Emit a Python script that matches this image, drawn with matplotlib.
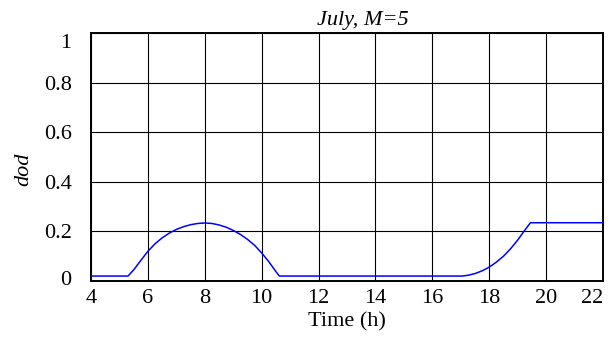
import numpy as np
import matplotlib
matplotlib.use("Agg")
from matplotlib import pyplot as plt
from matplotlib import transforms

# depth of discharge over the day
hours = [4, 5.3, 5.5, 5.75, 6, 6.25, 6.5, 6.75, 7, 7.25, 7.5, 7.75, 8, 8.25, 8.5, 8.75,
         9, 9.25, 9.5, 9.75, 10, 10.25, 10.5, 10.62,
         17.05, 17.25, 17.5, 17.75, 18, 18.25, 18.5, 18.75, 19, 19.25, 19.45, 22]
dod = [0.02, 0.02, 0.045, 0.083, 0.12, 0.15, 0.174, 0.193, 0.208, 0.219, 0.227, 0.232, 0.234, 0.232, 0.226, 0.217,
       0.204, 0.188, 0.168, 0.144, 0.113, 0.078, 0.038, 0.02,
       0.02, 0.023, 0.03, 0.041, 0.056, 0.076, 0.1, 0.13, 0.165, 0.205, 0.235, 0.235]

x_ticks = [4, 6, 8, 10, 12, 14, 16, 18, 20, 22]
y_ticks = [0, 0.2, 0.4, 0.6, 0.8, 1]
y_labels = ['0', '0.2', '0.4', '0.6', '0.8', '1']

plt.rcParams['font.family'] = 'serif'
plt.rcParams['font.serif'] = ['Liberation Serif', 'DejaVu Serif']

fig = plt.figure(figsize=(6.13, 3.38), dpi=100)
ax = fig.add_axes([0.1485, 0.1686, 0.8352, 0.7338])

ax.plot(hours, dod, color='blue', linewidth=1.1, zorder=3)

ax.set_xlim(4, 22)
ax.set_ylim(0, 1)
ax.set_xticks(x_ticks)
ax.set_yticks(y_ticks)
ax.set_yticklabels(y_labels)
ax.grid(True, color='black', linewidth=0.8)
ax.tick_params(axis='both', direction='in', labelsize=16, length=0)
ax.tick_params(axis='y', pad=14)
ax.tick_params(axis='x', pad=6)
for s in ax.spines.values():
    s.set_linewidth(1.4)

# matlab-style nudges on the end labels
ylabs = ax.get_yticklabels()
ylabs[-1].set_transform(ylabs[-1].get_transform() + transforms.ScaledTranslation(0, -8 / 100, fig.dpi_scale_trans))
ylabs[0].set_transform(ylabs[0].get_transform() + transforms.ScaledTranslation(0, 3 / 100, fig.dpi_scale_trans))
xlabs = ax.get_xticklabels()
xlabs[-1].set_transform(xlabs[-1].get_transform() + transforms.ScaledTranslation(-11 / 100, 0, fig.dpi_scale_trans))

ax.set_xlabel('Time (h)', fontsize=16, labelpad=3)
ax.set_ylabel('dod', fontsize=16, style='italic')
ax.yaxis.set_label_coords(-0.113, 0.45)
fig.text(363 / 613, 1 - 25 / 338, 'July, M=5', fontsize=16, style='italic', ha='center', va='baseline')

plt.savefig('out.png', dpi=100)
